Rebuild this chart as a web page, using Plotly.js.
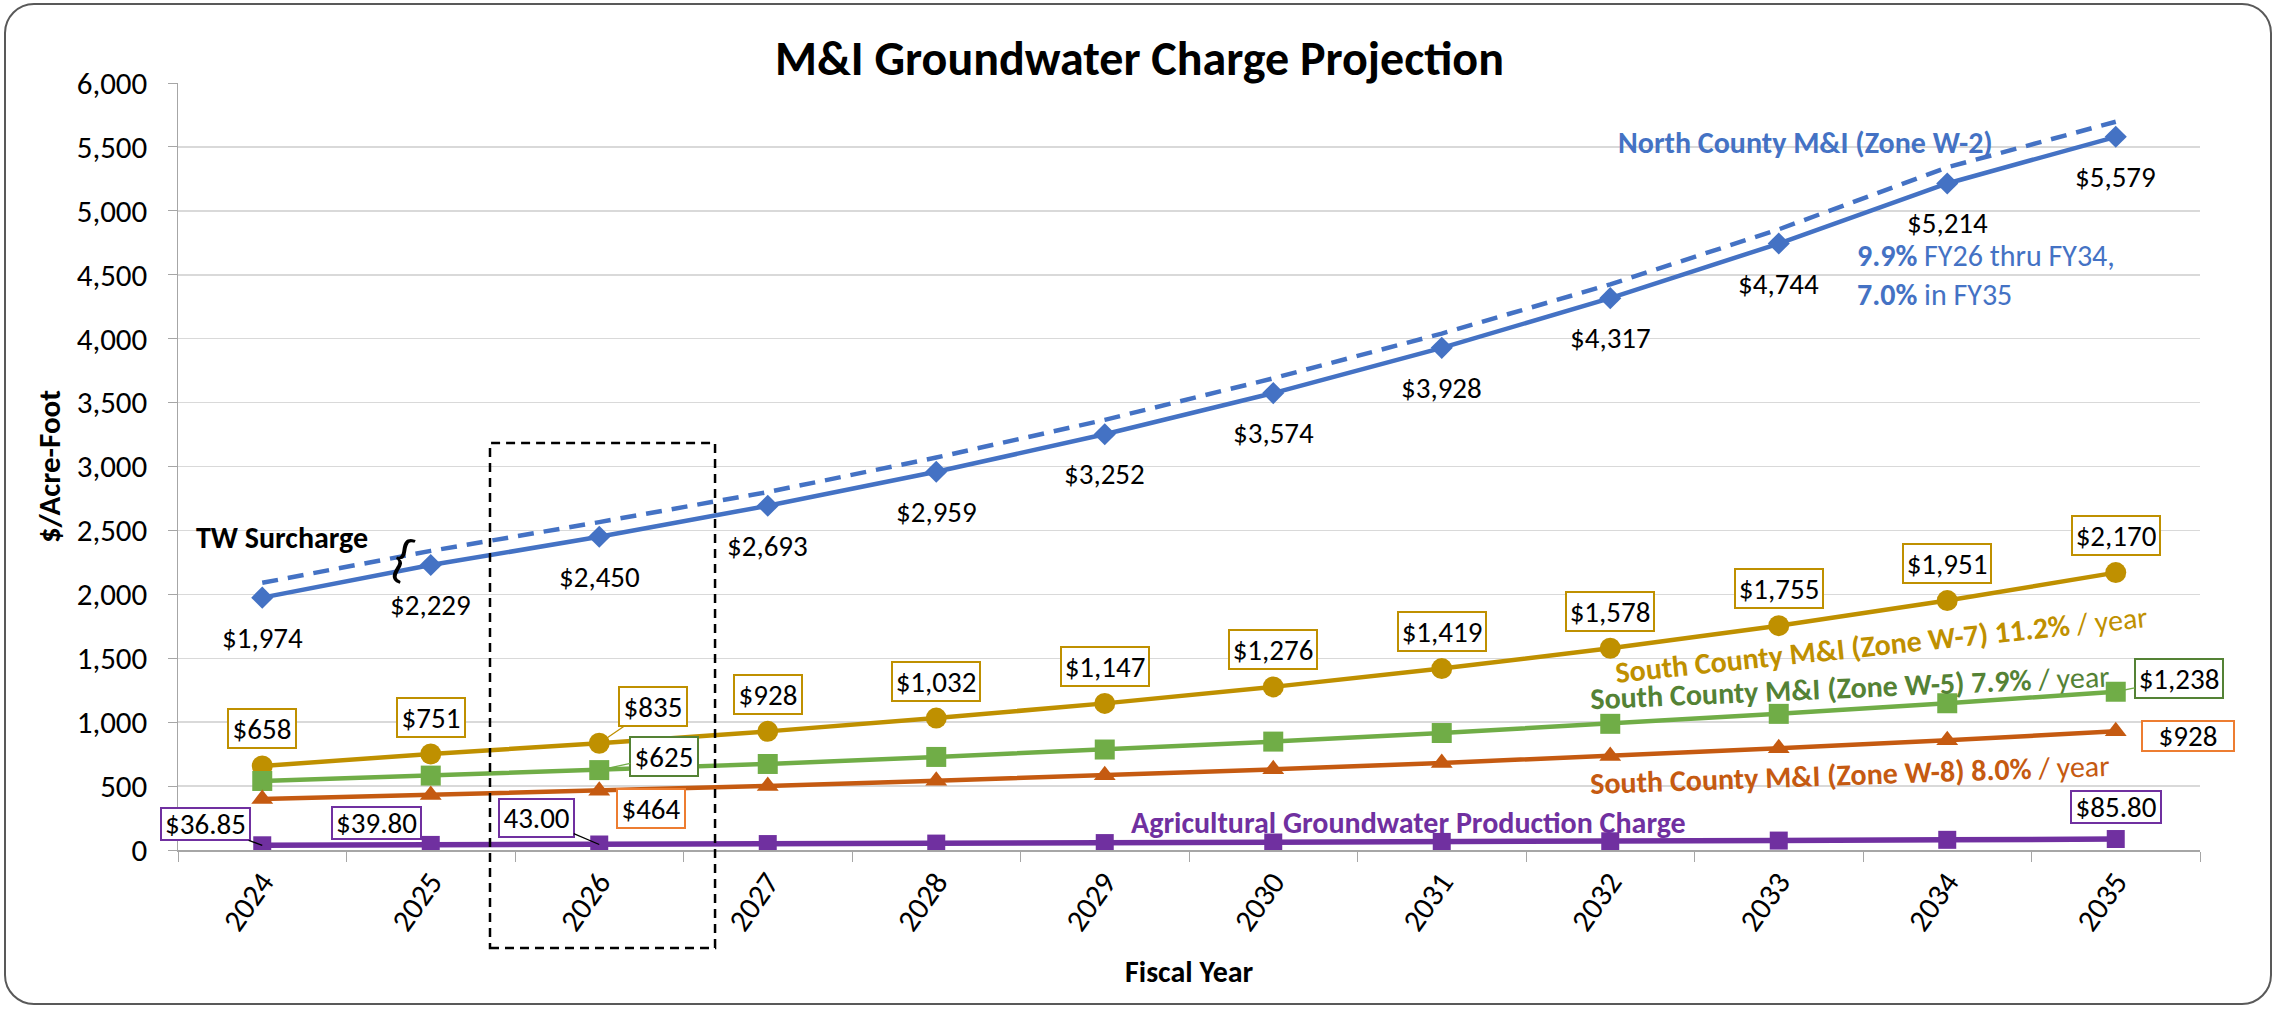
<!DOCTYPE html>
<html>
<head>
<meta charset="utf-8">
<script src="https://cdn.plot.ly/plotly-3.0.1.min.js"></script>
<style>
  html, body { margin: 0; padding: 0; background: #fff; }
  #wrap { position: relative; width: 2279px; height: 1009px; }
  #chart { position: absolute; left: 0; top: 0; width: 2279px; height: 1009px; }
  #frame { position: absolute; left: 4px; top: 3px; width: 2268px; height: 1002px; box-sizing: border-box;
           border: 2px solid #595959; border-radius: 30px; pointer-events: none; }
</style>
</head>
<body>
<div id="wrap"><div id="chart"></div><div id="frame"></div></div>
<script>
// ---- data ----
const years = ['2024','2025','2026','2027','2028','2029','2030','2031','2032','2033','2034','2035'];
const northCountyW2 = [1974, 2229, 2450, 2693, 2959, 3252, 3574, 3928, 4317, 4744, 5214, 5579];
const northCountyWithTW = [2090, 2340, 2565, 2800, 3070, 3365, 3690, 4040, 4425, 4855, 5340, 5697];
const southCountyW7 = [658, 751, 835, 928, 1032, 1147, 1276, 1419, 1578, 1755, 1951, 2170];
const southCountyW5 = [540, 582, 625, 673, 728, 786, 848, 915, 987, 1065, 1148, 1238];
const southCountyW8 = [398, 430, 464, 501, 541, 584, 631, 681, 736, 795, 858, 928];
const agCharge = [36.85, 39.80, 43.00, 46.45, 50.15, 54.15, 58.50, 63.20, 68.25, 73.70, 79.60, 85.80];
const agLabels = ['$36.85', '$39.80', '43.00', '', '', '', '', '', '', '', '', '$85.80'];

// ---- styles ----
const FONT = 'Carlito, Lato, sans-serif';
const BLUE = '#4472C4', GOLD = '#BF9000', GREEN = '#70AD47', GREEN_D = '#548235',
      ORANGE = '#C55A11', ORANGE_L = '#ED7D31', PURPLE = '#7030A0';

const money = v => '$' + v.toLocaleString('en-US');

const traces = [
  {x: years, y: northCountyWithTW, mode: 'lines', line: {color: BLUE, width: 4.5, dash: '16px,10px'}},
  {x: years, y: northCountyW2, mode: 'lines+markers', line: {color: BLUE, width: 4.5},
   marker: {symbol: 'diamond', size: 17, color: BLUE}},
  {x: years, y: southCountyW7, mode: 'lines+markers', line: {color: GOLD, width: 4.5},
   marker: {symbol: 'circle', size: 21, color: GOLD}},
  {x: years, y: southCountyW5, mode: 'lines+markers', line: {color: GREEN, width: 4.5},
   marker: {symbol: 'square', size: 20, color: GREEN}},
  {x: years, y: southCountyW8, mode: 'lines+markers', line: {color: ORANGE, width: 4.5},
   marker: {symbol: 'triangle-up', size: 19, color: ORANGE}},
  {x: years, y: agCharge, mode: 'lines+markers', line: {color: PURPLE, width: 5.5},
   marker: {symbol: 'square', size: 18, color: PURPLE}}
];

const ann = [];
const LBL = {family: FONT, size: 29, color: '#000'};

// North County labels below the points (x given as category index)
years.forEach((yr, i) => {
  ann.push({x: i, y: northCountyW2[i], text: money(northCountyW2[i]), showarrow: false,
            yshift: -40, font: LBL});
});

function boxed(i, y, text, color, dx, dy, leader, w, h) {
  const a = {x: i, y: y, text: text, font: LBL, bordercolor: color, borderwidth: 2,
             bgcolor: '#fff', borderpad: 3, width: w, height: h || 31};
  if (leader) {
    Object.assign(a, {showarrow: true, ax: dx, ay: -dy, arrowhead: 0, arrowwidth: 1.3,
                      arrowcolor: leader, standoff: 0});
  } else {
    Object.assign(a, {showarrow: false, xshift: dx, yshift: dy});
  }
  ann.push(a);
}
const wOf = t => t.length <= 4 ? 60 : (t.length === 5 ? 67 : 80);

// W-7 labels above
years.forEach((yr, i) => {
  const t = money(southCountyW7[i]);
  if (i === 2) boxed(i, southCountyW7[i], t, GOLD, 54, 37, GOLD, wOf(t));
  else boxed(i, southCountyW7[i], t, GOLD, 0, 37, null, wOf(t));
});
// W-5 labels
boxed(2, southCountyW5[2], money(southCountyW5[2]), GREEN_D, 65, 14, GREEN, 60);
boxed(11, southCountyW5[11], money(southCountyW5[11]), GREEN_D, 63, 13, GREEN, 80);
// W-8 labels
boxed(2, southCountyW8[2], money(southCountyW8[2]), ORANGE_L, 52, -18, null, 60);
boxed(11, southCountyW8[11], money(southCountyW8[11]), ORANGE_L, 72, -5, null, 84, 22);
// Ag labels
boxed(0, agCharge[0], agLabels[0], PURPLE, -57, 21, '#000', 81, 24);
boxed(1, agCharge[1], agLabels[1], PURPLE, -54, 22, null, 81, 24);
boxed(2, agCharge[2], agLabels[2], PURPLE, -63, 27, '#000', 67, 30);
boxed(11, agCharge[11], agLabels[11], PURPLE, 0, 32, null, 82, 24);

// series captions
const CAP = 30;
const cap = (x, y, text, color, angle, extra) => ann.push(Object.assign({x: x, y: y, text: text,
  showarrow: false, textangle: angle || 0, font: {family: FONT, size: CAP, color: color}}, extra || {}));
cap(9.16, 5538, '<b>North County M&amp;I (Zone W-2)</b>', BLUE);
cap(9.45, 4498, '<b>9.9%</b> FY26 thru FY34,<br><b>7.0%</b> in FY35', BLUE, 0, {xanchor: 'left', align: 'left'});
cap(0.12, 2441, '<b>TW Surcharge</b>', '#000');
cap(0.84, 2285, '{', '#000', 20, {font: {family: FONT, size: 54, color: '#000'}});
cap(9.61, 1604, '<b>South County M&amp;I (Zone W-7) 11.2%</b> / year', GOLD, -6);
cap(9.42, 1272, '<b>South County M&amp;I (Zone W-5) 7.9%</b> / year', GREEN_D, -2.5);
cap(9.42, 587, '<b>South County M&amp;I (Zone W-8) 8.0%</b> / year', ORANGE, -2);
cap(6.80, 219, '<b>Agricultural Groundwater Production Charge</b>', PURPLE);

// axis titles
ann.push({xref: 'paper', yref: 'paper', x: 0.5, y: -0.158, xanchor: 'center', yanchor: 'middle',
          text: '<b>Fiscal Year</b>', showarrow: false, font: {family: FONT, size: 30, color: '#000'}});
ann.push({xref: 'paper', yref: 'paper', x: -0.064, y: 0.5, xanchor: 'center', yanchor: 'middle',
          text: '<b>$/Acre-Foot</b>', showarrow: false, textangle: -90,
          font: {family: FONT, size: 31, color: '#000'}});

const layout = {
  width: 2279, height: 1009,
  margin: {l: 178, r: 79, t: 83, b: 159},
  paper_bgcolor: '#fff', plot_bgcolor: '#fff',
  showlegend: false,
  font: {family: FONT, size: 24, color: '#000'},
  title: {text: '<b>M&amp;I Groundwater Charge Projection</b>', xref: 'container', x: 0.5, xanchor: 'center',
          y: 1 - 58/1009, yanchor: 'middle', font: {family: FONT, size: 48, color: '#000'}},
  xaxis: {type: 'category', range: [-0.5, 11.5], showgrid: false, showline: true, linecolor: '#a6a6a6',
          linewidth: 1.5, ticks: 'outside', tickson: 'boundaries', ticklen: 10, tickcolor: '#a6a6a6',
          tickangle: -55, tickfont: {family: FONT, size: 31, color: '#000'}, zeroline: false},
  yaxis: {range: [0, 6000], dtick: 500, tickformat: ',', showgrid: true, gridcolor: '#d9d9d9', gridwidth: 1.5,
          showline: true, linecolor: '#a6a6a6', linewidth: 1.5, ticks: 'outside', ticklen: 9, tickcolor: '#a6a6a6',
          tickfont: {family: FONT, size: 31, color: '#000'}, zeroline: false, ticklabelstandoff: 14},
  shapes: [
    {type: 'rect', xref: 'paper', yref: 'paper', x0: 0.1543, x1: 0.2656, y0: -0.1278, y1: 0.5306,
     line: {color: '#000', width: 2.5, dash: '9px,6px'}, fillcolor: 'rgba(0,0,0,0)', layer: 'above'}
  ],
  annotations: ann
};

Plotly.newPlot('chart', traces, layout, {displayModeBar: false, staticPlot: true});
</script>
</body>
</html>
